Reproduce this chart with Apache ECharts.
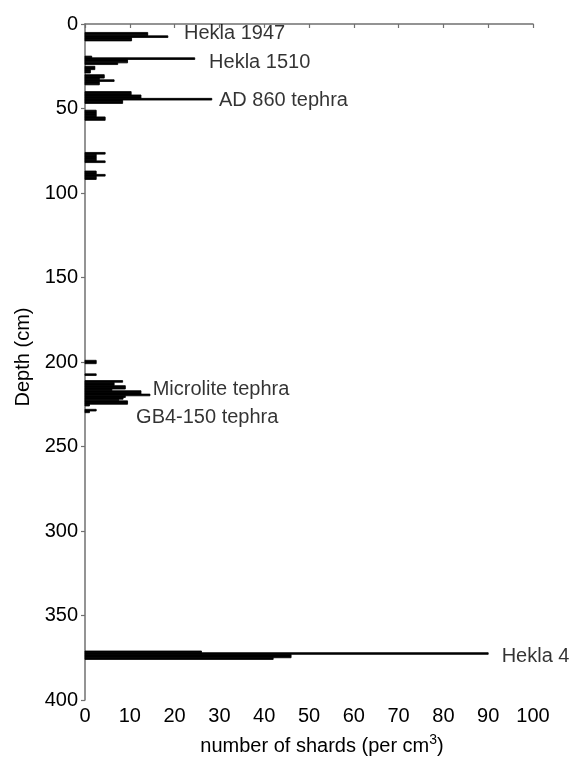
<!DOCTYPE html>
<html>
<head>
<meta charset="utf-8">
<script src="https://cdn.jsdelivr.net/npm/echarts@6/dist/echarts.min.js"></script>
<style>
html,body{margin:0;padding:0;background:#fff;}
#chart{width:576px;height:757px;}
</style>
</head>
<body>
<div id="chart"></div>
<script>
// Depth bins (top of 1 cm bin, cm) and shard counts (per cm3)
const depthCm = [
  5, 6, 7, 8, 9,
  19, 20, 21, 22, 23,
  25, 26, 27, 28,
  30, 31, 32, 33, 34, 35,
  40, 41, 42, 43, 44, 45, 46,
  51, 52, 53, 54, 55, 56,
  76, 77, 78, 79, 80, 81,
  87, 88, 89, 90, 91,
  199, 200,
  207,
  211, 212, 213, 214, 215, 216, 217, 218, 219, 220, 221, 222, 223, 224, 225,
  228, 229,
  371, 372, 373, 374, 375
];
const shardCount = [
  14, 14, 18.5, 10.4, 10.4,
  1.5, 24.5, 9.5, 9.5, 7.3,
  2.2, 2.2, 1.2, 1.2,
  4.3, 4.3, 3.2, 6.5, 3.2, 3.2,
  10.3, 10.3, 12.5, 12.5, 28.3, 8.4, 8.4,
  2.5, 2.5, 2.5, 2.5, 4.5, 4.5,
  4.5, 2.5, 2.5, 2.5, 2.5, 4.5,
  2.5, 2.5, 4.5, 2.5, 2.5,
  2.5, 2.5,
  2.5,
  8.4, 6.5, 6.5, 9, 9, 6, 12.5, 12.5, 14.5, 9, 8.5, 7.5, 9.5, 9.5, 1,
  2.5, 1,
  26, 90, 46, 46, 42
];
// Tephra labels: text, anchor in data units (shards, depth)
const tephraNames = ['Hekla 1947', 'Hekla 1510', 'AD 860 tephra', 'Microlite tephra', 'GB4-150 tephra', 'Hekla 4'];
const tephraLabelX = [22.1, 27.7, 29.9, 15.1, 11.4, 93.0];
const tephraLabelDepth = [5.8, 22.5, 45.2, 216.4, 232.8, 374];
// Axis ticks
const xTicks = [0, 10, 20, 30, 40, 50, 60, 70, 80, 90, 100];
const yTicks = [0, 50, 100, 150, 200, 250, 300, 350, 400];

const FONT = '"Liberation Sans", Arial, sans-serif';
const chart = echarts.init(document.getElementById('chart'), null, {renderer: 'canvas'});

const barData = depthCm.map((d, i) => [d, shardCount[i]]);
const labelData = tephraNames.map((n, i) => [tephraLabelX[i], tephraLabelDepth[i], n]);

chart.setOption({
  animation: false,
  backgroundColor: '#ffffff',
  grid: {left: 85, right: 43, top: 24, bottom: 57, containLabel: false, outerBoundsMode: 'none'},
  xAxis: {
    type: 'value',
    min: xTicks[0], max: xTicks[xTicks.length - 1], interval: xTicks[1] - xTicks[0],
    name: 'number of shards (per cm{sup|3})',
    nameLocation: 'middle',
    nameGap: 33,
    nameTextStyle: {
      fontFamily: FONT, fontSize: 20, color: '#000', padding: [0, 0, 0, 26],
      rich: {sup: {fontFamily: FONT, fontSize: 14, color: '#000', padding: [0, 0, 12, 0]}}
    },
    axisLine: {show: true, lineStyle: {color: '#707070', width: 1.5}},
    axisTick: {show: true, length: 4, lineStyle: {color: '#707070', width: 1.2}},
    axisLabel: {fontFamily: FONT, fontSize: 20, color: '#000', margin: 6},
    splitLine: {show: false}
  },
  yAxis: {
    type: 'value',
    inverse: true,
    min: yTicks[0], max: yTicks[yTicks.length - 1], interval: yTicks[1] - yTicks[0],
    name: 'Depth (cm)',
    nameLocation: 'middle',
    nameGap: 52,
    nameTextStyle: {fontFamily: FONT, fontSize: 20, color: '#000', padding: [0, 0, 0, 10]},
    axisLine: {show: true, lineStyle: {color: '#707070', width: 1.5}},
    axisTick: {show: true, length: 4, lineStyle: {color: '#707070', width: 1.2}},
    axisLabel: {fontFamily: FONT, fontSize: 20, color: '#000', margin: 7},
    splitLine: {show: false}
  },
  series: [
    {
      type: 'custom',
      data: barData,
      encode: {x: 1, y: 0},
      renderItem: function (params, api) {
        const d = api.value(0), v = api.value(1);
        const p0 = api.coord([0, d]);
        const p1 = api.coord([v, d + 1]);
        return {
          type: 'rect',
          shape: {x: p0[0], y: p0[1], width: p1[0] - p0[0], height: p1[1] - p0[1]},
          style: {fill: '#000', stroke: '#000', lineWidth: 0.8}
        };
      },
      z: 3
    },
    {
      type: 'scatter',
      data: labelData,
      encode: {x: 0, y: 1},
      symbolSize: 0,
      silent: true,
      label: {
        show: true,
        position: 'right',
        distance: 0,
        formatter: p => p.value[2],
        fontFamily: FONT, fontSize: 20, color: '#000'
      },
      z: 4
    }
  ]
});
</script>
</body>
</html>
